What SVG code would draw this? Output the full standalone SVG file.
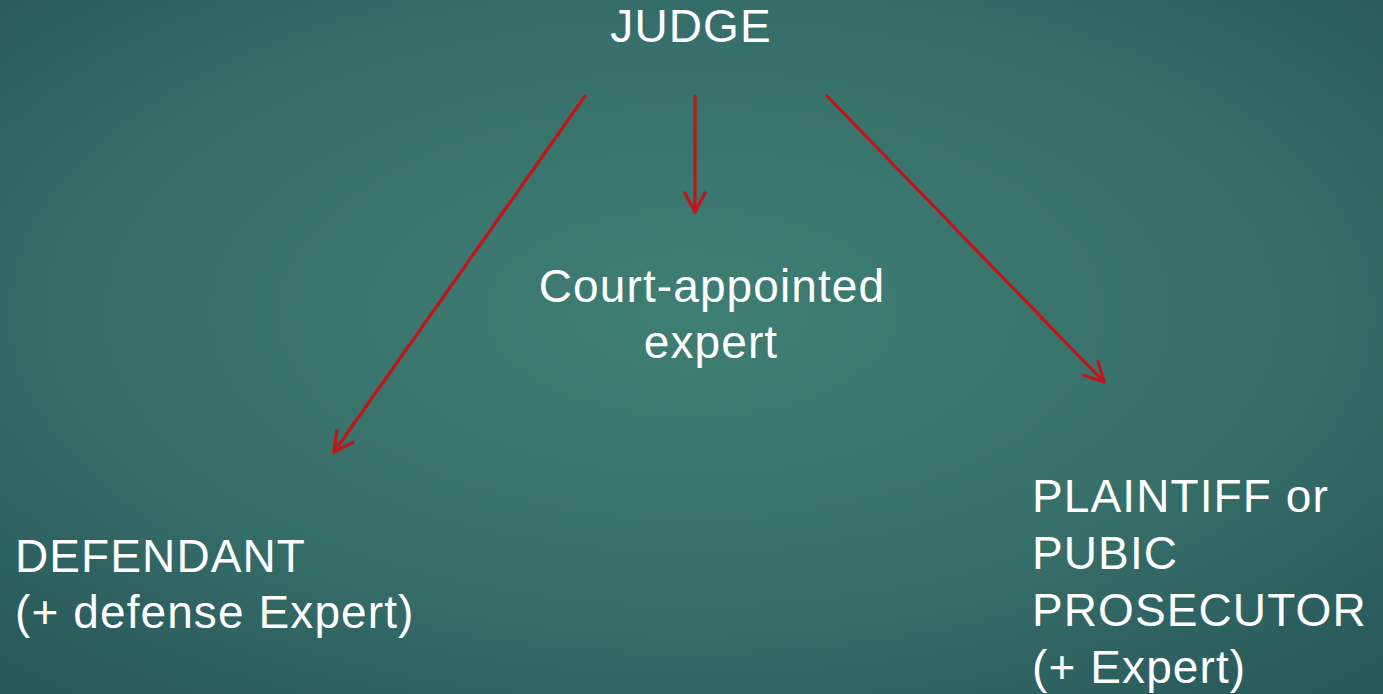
<svg xmlns="http://www.w3.org/2000/svg" width="1383" height="694" viewBox="0 0 1383 694">
  <defs>
    <radialGradient id="bg" cx="0.5" cy="0.45" r="0.72">
      <stop offset="0" stop-color="#3f7e73"/>
      <stop offset="0.55" stop-color="#37706a"/>
      <stop offset="1" stop-color="#28585a"/>
    </radialGradient>
    <marker id="arrow" markerUnits="userSpaceOnUse" viewBox="-25 -15 30 30" refX="0" refY="0" markerWidth="30" markerHeight="30" orient="auto">
      <path d="M-19,-10 L0,0 L-19,10" fill="none" stroke="#c0161a" stroke-width="3.2" stroke-linecap="round" stroke-linejoin="round"/>
    </marker>
    <style>
      .lbl { font-family: "Liberation Sans", Arial, sans-serif; font-size: 46px; letter-spacing: 1.1px; fill: #ffffff; }
      .conn { stroke: #c0161a; stroke-width: 3.2; fill: none; stroke-linecap: round; marker-end: url(#arrow); }
    </style>
  </defs>
  <rect x="0" y="0" width="1383" height="694" fill="url(#bg)"/>
  <g id="connectors">
    <line class="conn" x1="585" y1="96" x2="334" y2="452"/>
    <line class="conn" x1="695" y1="96" x2="695" y2="212"/>
    <line class="conn" x1="827" y1="96" x2="1104" y2="382"/>
  </g>
  <g id="judge">
    <text class="lbl" x="691" y="42" text-anchor="middle">JUDGE</text>
  </g>
  <g id="court-expert">
    <text class="lbl" x="712" y="302" text-anchor="middle">Court-appointed</text>
    <text class="lbl" x="711" y="358" text-anchor="middle">expert</text>
  </g>
  <g id="defendant">
    <text class="lbl" x="15" y="572">DEFENDANT</text>
    <text class="lbl" x="15" y="628">(+ defense Expert)</text>
  </g>
  <g id="plaintiff">
    <text class="lbl" x="1032" y="512">PLAINTIFF or</text>
    <text class="lbl" x="1032" y="569">PUBIC</text>
    <text class="lbl" x="1032" y="626">PROSECUTOR</text>
    <text class="lbl" x="1032" y="683">(+ Expert)</text>
  </g>
</svg>
